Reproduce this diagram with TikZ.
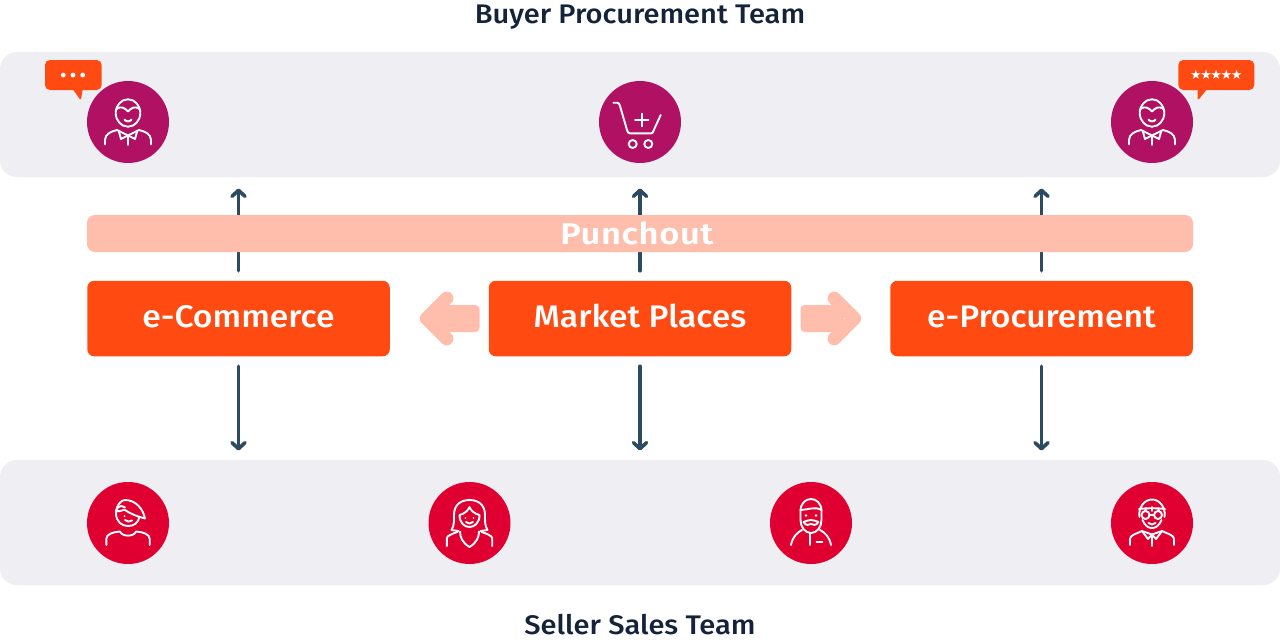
\documentclass[tikz,border=0pt]{standalone}
\usepackage{fontspec}
\setmainfont{Open Sans}
\newfontfamily\lbl{Fira Sans Medium}[FakeStretch=1.08]
\newfontfamily\punchfont{Fira Sans SemiBold}[FakeStretch=1.15,LetterSpace=2]
\newfontfamily\starfont{DejaVu Sans}[LetterSpace=-11.5]
\usetikzlibrary{arrows.meta}
\definecolor{bandgray}{HTML}{EEEEF3}
\definecolor{orangebox}{HTML}{FF4B12}
\definecolor{peach}{HTML}{FFBDAC}
\definecolor{plum}{HTML}{B01163}
\definecolor{crimson}{HTML}{DF0031}
\definecolor{slatearrow}{HTML}{2C4A60}
\definecolor{titleink}{HTML}{14233A}
\tikzset{
  x=1pt,y=-1pt,
  band/.style={fill=bandgray,rounded corners=17pt,minimum width=1280pt,minimum height=125pt,inner sep=0pt,outer sep=0pt},
  boxnode/.style={fill=orangebox,rounded corners=7pt,minimum width=302.5pt,minimum height=75.5pt,inner sep=0pt,outer sep=0pt},
  boxtext/.style={text=white,inner sep=0pt,anchor=base,font=\fontsize{31.2}{34}\lbl},
  titlenode/.style={text=titleink,inner sep=0pt,anchor=base,font=\fontsize{26.9}{30}\lbl},
  plumdisc/.style={circle,fill=plum,minimum size=82pt,inner sep=0pt,outer sep=0pt},
  reddisc/.style={circle,fill=crimson,minimum size=82pt,inner sep=0pt,outer sep=0pt},
  conn/.style={draw=slatearrow,line width=3.6pt,line cap=round,-{Straight Barb[length=6pt,width=13pt,line width=3.6pt,round]}},
  fatshaft/.style={fill=peach,rounded corners=4pt},
  fathead/.style={draw=peach,line width=13.4pt,line cap=round,line join=round},
  bubble/.style={fill=orangebox,rounded corners=5pt},
  ico/.style={draw=white,line width=1.9pt,line cap=round,line join=round},
  iconbuyer/.pic={
    \draw[ico] (0,-9) ellipse (12.3 and 13.7);
    \draw[ico] (-11.5,-13) .. controls (-7,-16.5) and (-3,-14) .. (0,-10.5) .. controls (3,-14) and (7,-16.5) .. (11.5,-13);
    \draw[ico] (-3.5,-2.5) .. controls (-2,0) and (2,0) .. (3.5,-2.5);
    \draw[ico] (-23,22.5) -- (-23,18) .. controls (-23,12) and (-17,9.5) .. (-11,8) -- (0,13.5) -- (11,8) .. controls (17,9.5) and (23,12) .. (23,18) -- (23,22.5);
    \draw[ico] (0,13.5) -- (-7,17) -- (-9,10);
    \draw[ico] (0,13.5) -- (7,17) -- (9,10);
    \draw[ico] (0,13.5) -- (0,23);
  },
  iconcart/.pic={
    \draw[ico] (-26.7,-19.3) -- (-23,-19.3) .. controls (-21,-19.3) and (-20.5,-18) .. (-20,-16) -- (-13,8) .. controls (-12.5,10.5) and (-11.5,11.3) .. (-10,11.3) -- (11,11.3) .. controls (12.5,11.3) and (13,10.5) .. (13.6,8.5) -- (20.7,-7);
    \draw[ico] (1.7,-8.5) -- (1.7,4.5) (-5,-2) -- (8.4,-2);
    \draw[ico] (-7.3,22) circle (4) (8.3,22) circle (4);
  },
  iconhair/.pic={
    \draw[ico] (-3,-15.5) .. controls (-9.5,-19.5) and (-12,-14) .. (-12,-10) .. controls (-12,-1) and (-6,3) .. (0,3) .. controls (6,3) and (10,0) .. (11.5,-6);
    \draw[ico] (-12,-12) .. controls (-7,-11) and (-4,-14) .. (-3,-13) .. controls (3,-9) and (8,-7) .. (17,-4.5) .. controls (15,-14) and (8,-23) .. (-3,-23) .. controls (-7,-23) and (-11,-18) .. (-12,-12);
    \fill[white] (-3.5,-7) circle (1);
    \draw[ico] (-3,-3) .. controls (-1,-1) and (2,-1) .. (4,-2.5);
    \draw[ico] (-21.7,22) -- (-21.7,16) .. controls (-21.7,11) and (-15,9) .. (-8,8.5) .. controls (-6,14) and (6,14) .. (8,8.5) .. controls (15,9) and (21.7,11) .. (21.7,16) -- (21.7,22);
  },
  iconwoman/.pic={
    \draw[ico] (-11,8) -- (-18,7) .. controls (-15,2) and (-15.5,-3) .. (-15.5,-8) .. controls (-15.5,-18) and (-9,-23) .. (0,-23) .. controls (9,-23) and (15.5,-18) .. (15.5,-8) .. controls (15.5,-3) and (15,2) .. (18,7) -- (11,8);
    \draw[ico] (-10,-8) .. controls (-5,-9) and (-1,-13) .. (0,-16) .. controls (1,-13) and (5,-9) .. (10,-8) .. controls (10,0) and (5,4) .. (0,4) .. controls (-5,4) and (-10,0) .. (-10,-8) -- cycle;
    \fill[white] (-4,-5) circle (.9) (4,-5) circle (.9);
    \draw[ico] (-3.5,-1) .. controls (-1.5,1) and (1.5,1) .. (3.5,-1);
    \draw[ico] (-22.7,23) -- (-22.7,15) .. controls (-22.7,13) and (-16,10) .. (-12,9);
    \draw[ico] (22.7,23) -- (22.7,15) .. controls (22.7,13) and (16,10) .. (12,9);
    \draw[ico] (-9.5,8.5) .. controls (-9.5,14) and (-7,20) .. (0,24) .. controls (7,20) and (9.5,14) .. (9.5,8.5);
  },
  iconbeard/.pic={
    \draw[ico] (-10.5,-3) -- (-10.5,-12) .. controls (-10.5,-20) and (-5,-24) .. (0,-24) .. controls (5,-24) and (10.5,-20) .. (10.5,-12) -- (10.5,-3) .. controls (10.5,4) and (6,10) .. (0,10) .. controls (-6,10) and (-10.5,4) .. (-10.5,-3);
    \draw[ico] (-10.5,-13) .. controls (-4,-13) and (4,-17) .. (10.5,-13);
    \fill[white] (-5,-7.5) circle (1.3) (5,-7.5) circle (1.3);
    \draw[ico] (-7.5,-1) .. controls (-4,-1) and (-3,-4) .. (0,-3) .. controls (3,-4) and (4,-1) .. (7.5,-1) .. controls (5,3) and (2,2) .. (0,1) .. controls (-2,2) and (-5,3) .. (-7.5,-1);
    \draw[ico] (-20,22) .. controls (-18.5,14) and (-14,9.5) .. (-9,7);
    \draw[ico] (20,22) .. controls (18.5,14) and (14,9.5) .. (9,7);
    \draw[ico] (-1,10) -- (-1,22);
    \draw[ico] (5.5,19) -- (11.5,19);
  },
  iconglasses/.pic={
    \draw[ico] (-12.5,-6) .. controls (-14,-15) and (-8,-23.5) .. (0,-23.5) .. controls (8,-23.5) and (14,-15) .. (12.5,-6);
    \draw[ico] (-9.5,-3) .. controls (-7,3.5) and (-3,5) .. (0,5) .. controls (3,5) and (7,3.5) .. (9.5,-3);
    \draw[ico] (-13,-14) .. controls (-6,-15) and (6,-15) .. (13,-14);
    \draw[ico] (-6,-15) -- (-7,-12) (0,-16) -- (0,-12) (6,-15) -- (7,-12);
    \draw[ico] (-6.5,-8) circle (4) (6,-8) circle (4);
    \draw[ico] (-2.5,-8) -- (2,-8);
    \draw[ico] (-3.5,0) .. controls (-1.5,2) and (1.5,2) .. (3.5,0);
    \draw[ico] (-22,22) -- (-22,16) .. controls (-22,12) and (-16,11) .. (-10,8) -- (-4,16) -- (0,11.5) -- (4,16) -- (10,8) .. controls (16,11) and (22,12) .. (22,16) -- (22,22);
    \draw[ico] (-10,8) -- (0,11.5) -- (10,8);
    \draw[ico] (0,11.5) -- (0,23);
  },
}
\begin{document}
\begin{tikzpicture}
\useasboundingbox (0,0) rectangle (1280,643);
\fill[white] (0,0) rectangle (1280,643);

\node[band] (buyerband) at (640,114.5) {};
\node[band] (sellerband) at (640,522.5) {};
\node[titlenode] (buyertitle) at (640,23) {Buyer Procurement Team};
\node[titlenode] (sellertitle) at (640,634) {Seller Sales Team};

\node[boxnode] (ecom) at (238.5,318.5) {};
\node[boxnode] (market) at (640,318.5) {};
\node[boxnode] (eproc) at (1041.5,318.5) {};
\node[boxtext] (ecomtext) at (238.5,327) {e-Commerce};
\node[boxtext] (markettext) at (640,327) {Market Places};
\node[boxtext] (eproctext) at (1041.5,327) {e-Procurement};

% connectors (up ones pass behind the Punchout bar)
\draw[conn,shorten <=10pt,shorten >=11.5pt] (ecom.north) -- (ecom.north |- buyerband.south);
\draw[conn,shorten <=10pt,shorten >=11.5pt] (market.north) -- (market.north |- buyerband.south);
\draw[conn,shorten <=10pt,shorten >=11.5pt] (eproc.north) -- (eproc.north |- buyerband.south);
\draw[conn,shorten <=10pt,shorten >=9.5pt] (ecom.south) -- (ecom.south |- sellerband.north);
\draw[conn,shorten <=10pt,shorten >=9.5pt] (market.south) -- (market.south |- sellerband.north);
\draw[conn,shorten <=10pt,shorten >=9.5pt] (eproc.south) -- (eproc.south |- sellerband.north);

\node[fill=peach,rounded corners=8pt,minimum width=1106pt,minimum height=37pt,inner sep=0pt,outer sep=0pt] (punchout) at (640,233.5) {};
\node[text=white,inner sep=0pt,font=\fontsize{30}{32}\punchfont] (punchtext) at (637,233.5) {Punchout};

% fat arrows
\fill[fatshaft] (436,305) rectangle (479.5,332);
\draw[fathead] (446.7,298.3) -- (426.5,318.5) -- (446.7,338.7);
\fill[fatshaft] (844,305) rectangle (800.5,332);
\draw[fathead] (834.3,298.3) -- (854.5,318.5) -- (834.3,338.7);

% buyer discs
\node[plumdisc] (b1) at (128,122) {};
\node[plumdisc] (b2) at (640,122) {};
\node[plumdisc] (b3) at (1152,122) {};
\pic at (b1) {iconbuyer};
\pic at (b2) {iconcart};
\pic at (b3) {iconbuyer};

% seller discs
\node[reddisc] (s1) at (128,523) {};
\node[reddisc] (s2) at (469.5,523) {};
\node[reddisc] (s3) at (811,523) {};
\node[reddisc] (s4) at (1152,523) {};
\pic at (s1) {iconhair};
\pic at (s2) {iconwoman};
\pic at (s3) {iconbeard};
\pic at (s4) {iconglasses};

% speech bubbles
\fill[bubble] (45,60) rectangle (101.7,90);
\fill[orangebox] (72.7,89) -- (82.7,89) -- (81.2,98.5) -- (80.4,99.3) -- (79.5,98.6) -- cycle;
\fill[white] (63.3,75) circle (2.4) (73,75) circle (2.4) (82.7,75) circle (2.4);
\fill[bubble] (1178.3,60) rectangle (1254.3,90);
\fill[orangebox] (1197.7,89) -- (1207,89) -- (1199.5,98.5) -- (1198.4,99.3) -- (1197.7,98.5) -- cycle;
\node[text=white,inner sep=0pt,font=\fontsize{13}{14}\starfont] (stars) at (1216.3,75) {★★★★★};
\end{tikzpicture}
\end{document}
